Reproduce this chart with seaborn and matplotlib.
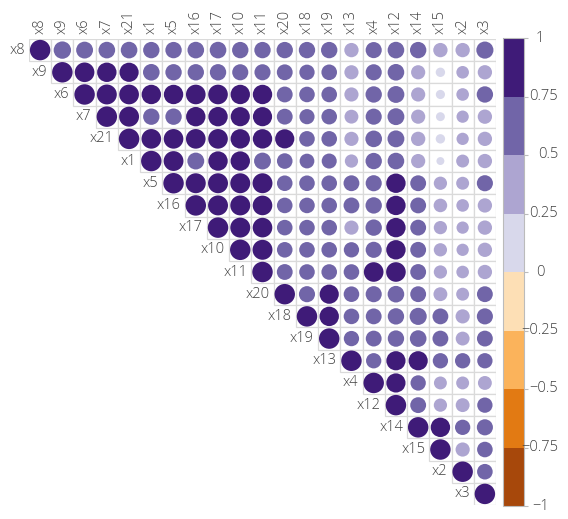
import numpy as np
import pandas as pd
import matplotlib
matplotlib.use("Agg")
import matplotlib.pyplot as plt
from matplotlib.colors import ListedColormap, BoundaryNorm
from matplotlib.patches import Rectangle
import seaborn as sns

# Variable order (hierarchically clustered)
variables = ["x8", "x9", "x6", "x7", "x21", "x1", "x5", "x16", "x17", "x10", "x11",
             "x20", "x18", "x19", "x13", "x4", "x12", "x14", "x15", "x2", "x3"]

# Upper-triangle correlations, each row starting at its diagonal
r_x8 = [1, .72, .68, .66, .66, .64, .64, .66, .66, .64, .64, .64, .64, .64, .49, .62, .66, .64, .49, .49, .70]
r_x9 = [1, .92, .90, .88, .66, .64, .64, .64, .62, .62, .60, .56, .58, .48, .62, .66, .48, .21, .38, .49]
r_x6 = [1, .95, .93, .90, .90, .92, .92, .90, .90, .60, .58, .58, .48, .64, .68, .48, .20, .38, .64]
r_x7 = [1, .95, .64, .64, .90, .90, .88, .88, .60, .55, .58, .46, .62, .68, .48, .19, .36, .49]
r_x21 = [1, .92, .92, .92, .92, .90, .90, .88, .58, .58, .48, .66, .68, .49, .21, .36, .49]
r_x1 = [1, .94, .68, .90, .90, .68, .58, .52, .54, .42, .64, .66, .48, .15, .40, .49]
r_x5 = [1, .95, .95, .95, .95, .58, .58, .58, .60, .62, .90, .60, .42, .40, .62]
r_x16 = [1, .95, .95, .92, .58, .58, .58, .60, .64, .90, .60, .44, .38, .49]
r_x17 = [1, .95, .92, .58, .58, .58, .48, .64, .90, .60, .42, .36, .49]
r_x10 = [1, .95, .58, .58, .58, .56, .62, .90, .60, .42, .36, .49]
r_x11 = [1, .60, .58, .58, .58, .92, .92, .60, .42, .38, .49]
r_x20 = [1, .62, .88, .58, .62, .66, .60, .46, .40, .60]
r_x18 = [1, .90, .58, .60, .64, .70, .60, .48, .62]
r_x19 = [1, .56, .60, .64, .66, .60, .46, .60]
r_x13 = [1, .56, .88, .88, .56, .56, .56]
r_x4 = [1, .88, .56, .40, .40, .46]
r_x12 = [1, .60, .42, .46, .56]
r_x14 = [1, .90, .56, .62]
r_x15 = [1, .48, .58]
r_x2 = [1, .58]
r_x3 = [1]

rows = [r_x8, r_x9, r_x6, r_x7, r_x21, r_x1, r_x5, r_x16, r_x17, r_x10, r_x11,
        r_x20, r_x18, r_x19, r_x13, r_x4, r_x12, r_x14, r_x15, r_x2, r_x3]

# Eight-step purple/orange palette from -1 to 1
bin_edges = [-1, -0.75, -0.5, -0.25, 0, 0.25, 0.5, 0.75, 1]
bin_colors = ["#A7480B", "#E27A13", "#FBB35B", "#FDDFB5",
              "#D8D8EB", "#ADA5D1", "#7165A8", "#3F1B78"]
cbar_ticks = [1, 0.75, 0.5, 0.25, 0, -0.25, -0.5, -0.75, -1]
cbar_labels = ["1", "0.75", "0.5", "0.25", "0", "\u22120.25", "\u22120.5", "\u22120.75", "\u22121"]

n = len(variables)
records = []
for i, vals in enumerate(rows):
    for k, v in enumerate(vals):
        j = i + k
        b = min(int(np.searchsorted(bin_edges, v, side="right")) - 1, 7)
        records.append({"row": i, "col": j, "r": v, "bin": b})
df = pd.DataFrame(records)

W, H, DPI = 568, 519, 100
fig = plt.figure(figsize=(W / DPI, H / DPI), dpi=DPI)
sns.set_style("white")
plt.rcParams["font.family"] = ["Open Sans", "DejaVu Sans"]
text_color = "#404040"
font_kw = dict(fontsize=10.5, color=text_color, fontweight=300)

left, right, top, bottom = 29, 496, 39, 505
ax = fig.add_axes([left / W, 1 - bottom / H, (right - left) / W, (bottom - top) / H])

# cell frames of the upper triangle
for i in range(n):
    for j in range(i, n):
        ax.add_patch(Rectangle((j - 0.5, i - 0.5), 1, 1, facecolor="white",
                               edgecolor="#DADADA", linewidth=0.9, zorder=1))

# circle area proportional to |r|
cell_px = (right - left) / n
diam_pt = 0.92 * cell_px * np.sqrt(df["r"].abs()) * 72 / DPI
palette = {b: bin_colors[b] for b in range(8)}
sns.scatterplot(data=df, x="col", y="row", hue="bin", palette=palette,
                s=diam_pt ** 2, linewidth=0, legend=False, ax=ax, zorder=3)
ax.set_xlim(-0.5, n - 0.5)
ax.set_ylim(n - 0.5, -0.5)
ax.set_axis_off()

for j, name in enumerate(variables):
    ax.text(j, -0.72, name, rotation=90, ha="center", va="bottom", **font_kw)
    ax.text(j - 0.68, j, name, ha="right", va="center", **font_kw)

# colour legend
cb_left, cb_right = 503, 524
cax = fig.add_axes([cb_left / W, 1 - 506 / H, (cb_right - cb_left) / W, (506 - 38) / H])
cmap = ListedColormap(bin_colors)
norm = BoundaryNorm(bin_edges, cmap.N)
cb = fig.colorbar(plt.cm.ScalarMappable(norm=norm, cmap=cmap), cax=cax, ticks=cbar_ticks)
cb.outline.set_edgecolor("#BBBBBB")
cb.outline.set_linewidth(0.8)
cax.tick_params(length=3, width=0.8, color="#BBBBBB", labelright=False)
cb_w = cb_right - cb_left
for t, lab in zip(cbar_ticks, cbar_labels):
    if lab in ("1", "0"):
        cax.text(1 + 12 / cb_w, t, lab, ha="left", va="center",
                 transform=cax.get_yaxis_transform(), **font_kw)
    elif lab == "\u22121":
        cax.text(1 + 8 / cb_w, t, lab, ha="left", va="center",
                 transform=cax.get_yaxis_transform(), **font_kw)
    else:
        cax.text(1 + 34 / cb_w, t, lab, ha="right", va="center",
                 transform=cax.get_yaxis_transform(), **font_kw)

fig.savefig("out.png", dpi=DPI)
